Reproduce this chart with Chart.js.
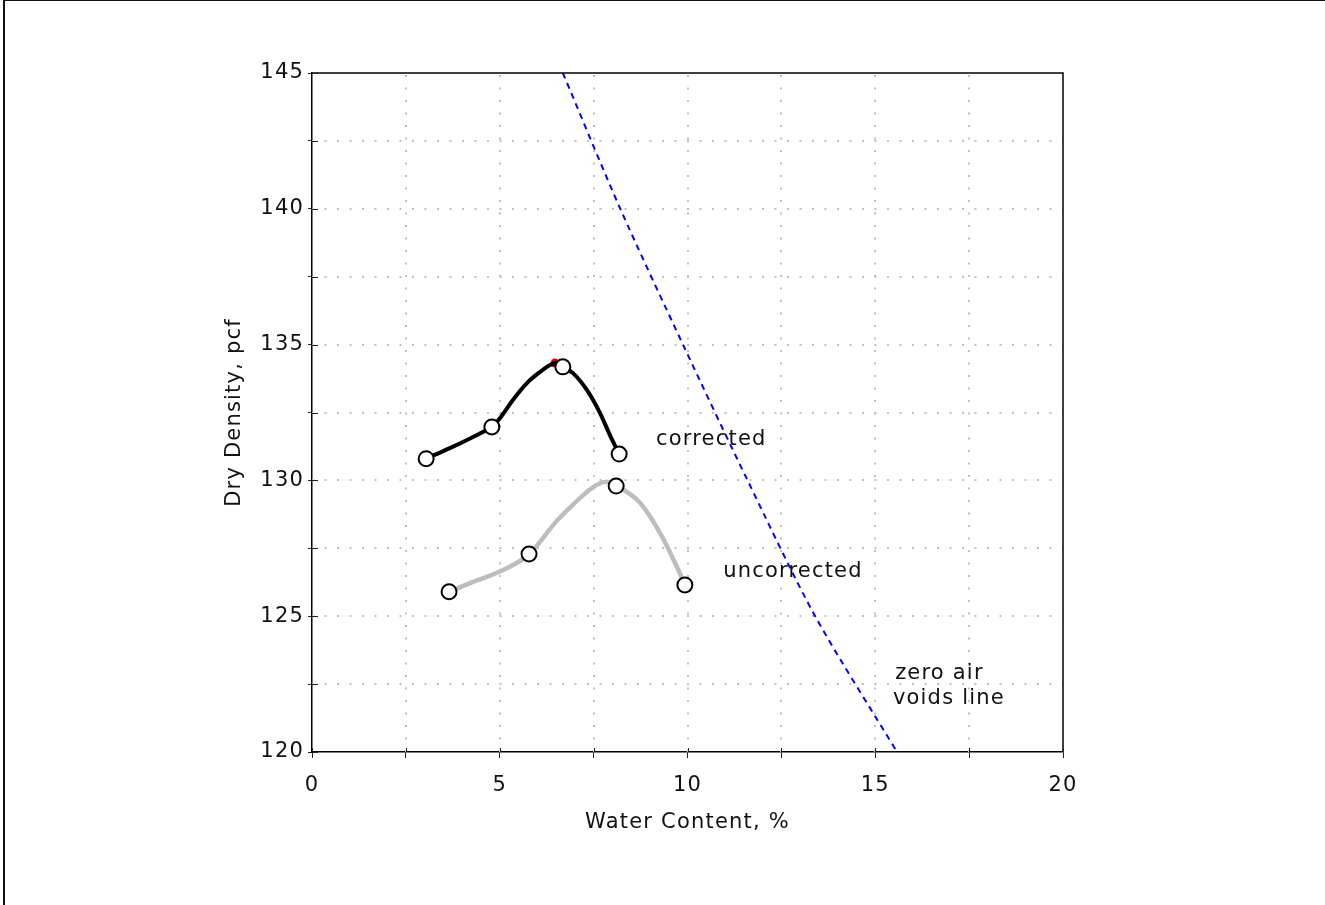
<!DOCTYPE html>
<html>
<head>
<meta charset="utf-8">
<script src="https://cdn.jsdelivr.net/npm/chart.js@4/dist/chart.umd.min.js"></script>
<style>
  html, body { margin: 0; padding: 0; background: #fff; }
  #wrap { position: relative; width: 1325px; height: 905px; overflow: hidden; }
  #frame { position: absolute; left: 3px; top: 0; width: 1330px; height: 910px;
           border-top: 1px solid #111; border-left: 2px solid #111; pointer-events: none; }
  canvas { position: absolute; left: 0; top: 0; }
</style>
</head>
<body>
<div id="wrap">
  <canvas id="proctor" width="1325" height="905"></canvas>
  <div id="frame"></div>
</div>
<script>
// measured test points: water content (%) and dry density (pcf)
var correctedW = [3.04, 4.79, 6.68, 8.18];
var correctedD = [130.8, 131.97, 134.18, 130.97];
var uncorrectedW = [3.65, 5.78, 8.10, 9.93];
var uncorrectedD = [125.9, 127.29, 129.79, 126.15];

// fitted compaction curves
var corrCurveW = [3.04, 3.67, 4.13, 4.55, 4.79, 5.01, 5.35, 5.73, 6.07, 6.34, 6.47, 6.68, 6.95, 7.32, 7.67, 7.94, 8.18];
var corrCurveD = [130.8, 131.19, 131.49, 131.78, 131.97, 132.3, 132.96, 133.59, 133.99, 134.25, 134.32, 134.18, 133.95, 133.33, 132.48, 131.65, 130.97];
var uncCurveW = [3.65, 4.21, 5.09, 5.78, 6.05, 6.45, 6.87, 7.3, 7.6, 7.86, 8.12, 8.74, 9.27, 9.72, 9.93];
var uncCurveD = [125.9, 126.22, 126.7, 127.27, 127.7, 128.4, 129.0, 129.55, 129.85, 129.95, 129.8, 129.17, 128.06, 126.81, 126.15];

// zero air voids line
var zavW = [6.68, 8.21, 9.88, 11.6, 13.4, 15.58];
var zavD = [145, 140, 135, 130, 125, 120];

// max dry density marker
var peakW = [6.47];
var peakD = [134.32];

var xTicks = [0, 5, 10, 15, 20];
var yTicks = [120, 125, 130, 135, 140, 145];

var notes = [
  { text: 'corrected', x: 9.16, y: 131.5 },
  { text: 'uncorrected', x: 10.95, y: 126.63 },
  { text: 'zero air', x: 15.53, y: 122.9 },
  { text: 'voids line', x: 15.47, y: 121.95 }
];

function pts(xs, ys) {
  return xs.map(function (x, i) { return { x: x, y: ys[i] }; });
}

var FONT = 'DejaVu Sans';
var TXT = '#111';

var decor = {
  id: 'decor',
  beforeDraw: function (chart) {
    chart.ctx.letterSpacing = '1.2px';
  },
  beforeDatasetsDraw: function (chart) {
    // dotted grid, inner lines only
    var ctx = chart.ctx, a = chart.chartArea;
    var xs = chart.scales.x, ys = chart.scales.y;
    ctx.save();
    ctx.strokeStyle = '#c0c0c0';
    ctx.lineWidth = 2;
    ctx.setLineDash([2, 10.5]);
    xs.ticks.forEach(function (t) {
      if (t.value <= xs.min || t.value >= xs.max) return;
      var px = Math.round(xs.getPixelForValue(t.value));
      ctx.beginPath(); ctx.moveTo(px, a.bottom); ctx.lineTo(px, a.top); ctx.stroke();
    });
    ys.ticks.forEach(function (t) {
      if (t.value <= ys.min || t.value >= ys.max) return;
      var py = Math.round(ys.getPixelForValue(t.value));
      ctx.beginPath(); ctx.moveTo(a.left, py); ctx.lineTo(a.right, py); ctx.stroke();
    });
    ctx.restore();
  },
  afterDatasetsDraw: function (chart) {
    var ctx = chart.ctx, a = chart.chartArea;
    var xs = chart.scales.x, ys = chart.scales.y;
    ctx.save();
    ctx.strokeStyle = '#000';
    ctx.lineWidth = 1.5;
    ctx.beginPath();
    ctx.moveTo(a.left, a.top); ctx.lineTo(a.right, a.top); ctx.lineTo(a.right, a.bottom);
    ctx.stroke();
    // inner halves of the tick marks
    ctx.lineWidth = 1;
    ctx.strokeStyle = '#222';
    xs.ticks.forEach(function (t) {
      var px = Math.round(xs.getPixelForValue(t.value)) + 0.5;
      ctx.beginPath(); ctx.moveTo(px, a.bottom); ctx.lineTo(px, a.bottom - 4); ctx.stroke();
    });
    ys.ticks.forEach(function (t) {
      var py = Math.round(ys.getPixelForValue(t.value)) + 0.5;
      ctx.beginPath(); ctx.moveTo(a.left, py); ctx.lineTo(a.left + 6, py); ctx.stroke();
    });
    ctx.fillStyle = TXT;
    ctx.font = '21px "' + FONT + '"';
    ctx.letterSpacing = '1.2px';
    ctx.textAlign = 'left';
    ctx.textBaseline = 'middle';
    notes.forEach(function (n) {
      ctx.fillText(n.text, xs.getPixelForValue(n.x), ys.getPixelForValue(n.y));
    });
    ctx.restore();
  }
};

var markerStyle = {
  showLine: false,
  pointRadius: 7.5,
  pointBorderWidth: 2,
  pointBackgroundColor: '#fff',
  pointBorderColor: '#000'
};

var ctx = document.getElementById('proctor').getContext('2d');
var chart = new Chart(ctx, {
  type: 'line',
  data: {
    datasets: [
      Object.assign({ label: 'corrected points', data: pts(correctedW, correctedD) }, markerStyle),
      Object.assign({ label: 'uncorrected points', data: pts(uncorrectedW, uncorrectedD) }, markerStyle),
      {
        label: 'corrected',
        data: pts(corrCurveW, corrCurveD),
        borderColor: '#000',
        borderWidth: 4,
        cubicInterpolationMode: 'monotone',
        pointRadius: 0
      },
      {
        label: 'uncorrected',
        data: pts(uncCurveW, uncCurveD),
        borderColor: '#bdbdbd',
        borderWidth: 4.5,
        cubicInterpolationMode: 'monotone',
        pointRadius: 0
      },
      {
        label: 'zero air voids',
        data: pts(zavW, zavD),
        borderColor: '#0000ff',
        borderWidth: 2,
        borderDash: [6, 5],
        tension: 0.3,
        pointRadius: 0
      },
      {
        label: 'max',
        data: pts(peakW, peakD),
        showLine: false,
        pointRadius: 4.5,
        pointBorderWidth: 0,
        pointBackgroundColor: '#e00000'
      }
    ]
  },
  options: {
    responsive: false,
    animation: false,
    layout: { padding: { top: 73, right: 262, left: 0, bottom: 0 } },
    plugins: { legend: { display: false }, tooltip: { enabled: false } },
    scales: {
      x: {
        type: 'linear',
        min: 0,
        max: 20,
        afterFit: function (s) { s.height = 153; },
        ticks: {
          stepSize: 2.5,
          color: TXT,
          font: { family: FONT, size: 21 },
          padding: 15,
          maxRotation: 0,
          callback: function (v) { return xTicks.indexOf(v) >= 0 ? String(v) : ''; }
        },
        grid: {
          drawOnChartArea: false,
          tickLength: 6,
          tickColor: '#222',
          tickWidth: 1
        },
        border: { color: '#000', width: 1.5 },
        title: {
          display: true,
          text: 'Water Content, %',
          color: TXT,
          font: { family: FONT, size: 21 },
          padding: { top: 0, bottom: 70 }
        }
      },
      y: {
        type: 'linear',
        min: 120,
        max: 145,
        afterFit: function (s) { s.width = 312; },
        ticks: {
          stepSize: 2.5,
          color: TXT,
          font: { family: FONT, size: 21 },
          padding: 4,
          callback: function (v) { return yTicks.indexOf(v) >= 0 ? String(v) : ''; }
        },
        grid: {
          drawOnChartArea: false,
          tickLength: 4,
          tickColor: '#222',
          tickWidth: 1
        },
        border: { color: '#000', width: 1.5 },
        title: {
          display: true,
          text: 'Dry Density, pcf',
          color: TXT,
          font: { family: FONT, size: 21 },
          padding: { top: 222, bottom: 0 }
        }
      }
    }
  },
  plugins: [decor]
});
</script>
</body>
</html>
